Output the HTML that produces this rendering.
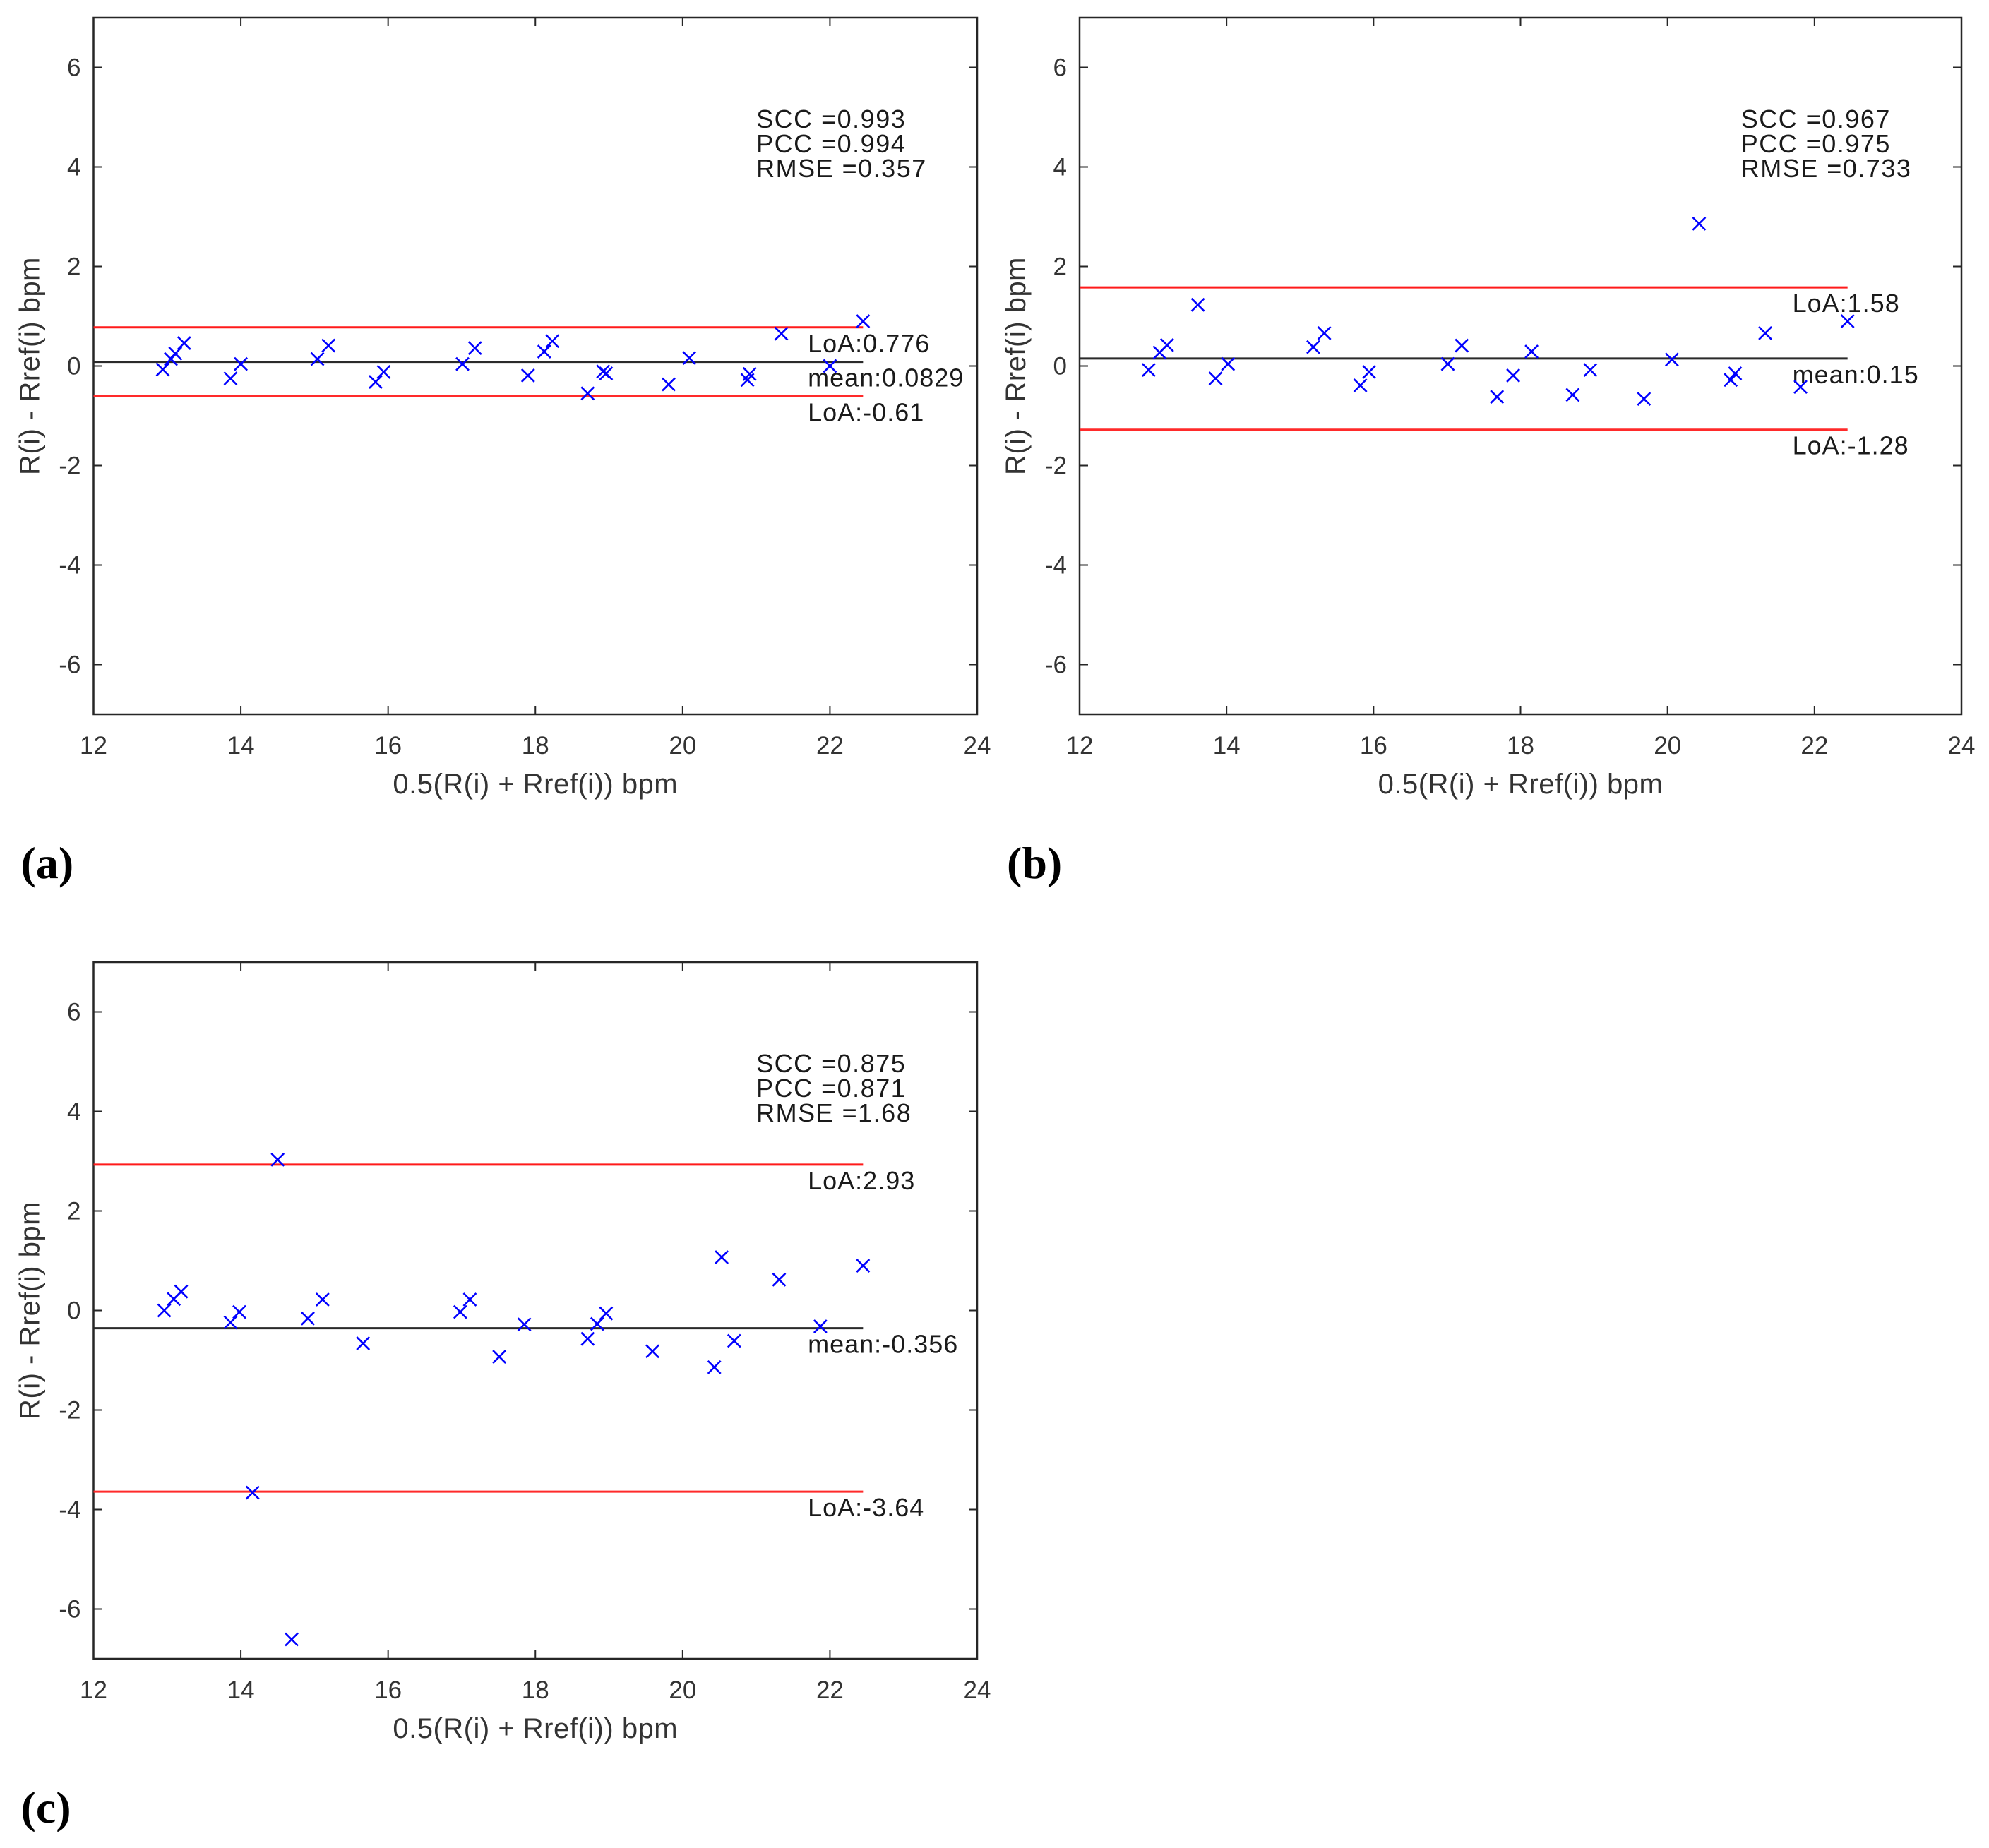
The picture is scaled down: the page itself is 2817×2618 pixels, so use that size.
<!DOCTYPE html>
<html><head><meta charset="utf-8"><style>
html,body{margin:0;padding:0;background:#fff;}
svg{display:block;font-family:"Liberation Sans",Arial,sans-serif;}
</style></head><body>
<svg id="fig" width="2817" height="2618" viewBox="0 0 2817 2618" xmlns="http://www.w3.org/2000/svg"></svg>
<script>
// ---- data ----
const xTicks = [12,14,16,18,20,22,24];
const yTicks = [-6,-4,-2,0,2,4,6];
const aX = [12.94,13.05,13.11,13.23,13.86,14.00,15.04,15.19,15.83,15.94,17.01,17.18,17.90,18.12,18.23,18.71,18.92,18.96,19.81,20.09,20.88,20.91,21.34,22.00,22.45];
const aY = [-0.07,0.14,0.25,0.46,-0.25,0.04,0.14,0.41,-0.32,-0.12,0.04,0.36,-0.19,0.29,0.50,-0.55,-0.11,-0.15,-0.37,0.16,-0.28,-0.16,0.65,0.00,0.90];
const aStats = ["SCC =0.993","PCC =0.994","RMSE =0.357"];
const aLines = [0.776,0.0829,-0.61];
const aLineLabels = ["LoA:0.776","mean:0.0829","LoA:-0.61"];
const bX = [12.94,13.09,13.19,13.61,13.85,14.02,15.18,15.33,15.82,15.94,17.01,17.20,17.68,17.90,18.15,18.71,18.95,19.68,20.06,20.43,20.86,20.92,21.33,21.81,22.45];
const bY = [-0.08,0.27,0.42,1.23,-0.25,0.04,0.38,0.66,-0.39,-0.12,0.04,0.41,-0.62,-0.19,0.29,-0.58,-0.08,-0.66,0.13,2.86,-0.28,-0.15,0.66,-0.42,0.90];
const bStats = ["SCC =0.967","PCC =0.975","RMSE =0.733"];
const bLines = [1.58,0.15,-1.28];
const bLineLabels = ["LoA:1.58","mean:0.15","LoA:-1.28"];
const cX = [12.96,13.09,13.19,13.86,13.98,14.16,14.50,14.69,14.91,15.11,15.66,16.98,17.11,17.51,17.85,18.71,18.84,18.96,19.59,20.43,20.53,20.70,21.31,21.87,22.45];
const cY = [0.00,0.23,0.38,-0.24,-0.03,-3.66,3.03,-6.61,-0.16,0.22,-0.66,-0.03,0.22,-0.93,-0.28,-0.57,-0.27,-0.06,-0.82,-1.14,1.07,-0.61,0.62,-0.32,0.90];
const cStats = ["SCC =0.875","PCC =0.871","RMSE =1.68"];
const cLines = [2.93,-0.356,-3.64];
const cLineLabels = ["LoA:2.93","mean:-0.356","LoA:-3.64"];

const NS="http://www.w3.org/2000/svg";
const svg=document.getElementById('fig');
function mk(tag,attrs,parent,text){const e=document.createElementNS(NS,tag);for(const k in attrs)e.setAttribute(k,attrs[k]);if(text!==undefined)e.textContent=text;parent.appendChild(e);return e;}

function panel(key,L,R,T,B,xs,ys,stats,lines,lineLabels,letter){
  const g=mk('g',{},svg);
  
  
  const sx=v=>L+(v-12)/12*(R-L);
  const sy=v=>T+(7-v)/14*(B-T);
  const frame=mk('rect',{x:L,y:T,width:R-L,height:B-T,fill:'#fff',stroke:'#262626','stroke-width':2.5},g);
  
  
  xTicks.forEach(t=>{
    const x=sx(t);
    mk('line',{x1:x,y1:B,x2:x,y2:B-12,stroke:'#262626','stroke-width':2},g);
    mk('line',{x1:x,y1:T,x2:x,y2:T+12,stroke:'#262626','stroke-width':2},g);
    const tl=mk('text',{x:x,y:B+56,'text-anchor':'middle','font-size':35,fill:'#333'},g,String(t));
    
    
  });
  yTicks.forEach(t=>{
    const y=sy(t);
    mk('line',{x1:L,y1:y,x2:L+12,y2:y,stroke:'#262626','stroke-width':2},g);
    mk('line',{x1:R,y1:y,x2:R-12,y2:y,stroke:'#262626','stroke-width':2},g);
    const tl=mk('text',{x:L-18,y:y+12,'text-anchor':'end','font-size':35,fill:'#333'},g,String(t));
    
    
  });
  const xt=mk('text',{x:(L+R)/2,y:B+112,'text-anchor':'middle','font-size':40,fill:'#333','letter-spacing':0.5},g,'0.5(R(i) + Rref(i)) bpm');
  
  
  const yc=(T+B)/2, yx=L-77;
  const yt=mk('text',{x:yx,y:yc,'text-anchor':'middle','font-size':40,fill:'#333','letter-spacing':0.5,transform:`rotate(-90 ${yx} ${yc})`},g,'R(i) - Rref(i) bpm');
  
  
  const colors=['#ff1a1a','#2a2a2a','#ff2a2a'];
  lines.forEach((v,i)=>{
    const y=sy(v);
    const ln=mk('line',{x1:sx(12),y1:y,x2:sx(22.45),y2:y,stroke:colors[i],'stroke-width':3},g);
    
    
    const lb=mk('text',{x:sx(21.7),y:y+35,'font-size':36,fill:'#1a1a1a','letter-spacing':1},g,lineLabels[i]);
    
    
  });
  stats.forEach((s,i)=>{
    const st=mk('text',{x:sx(21.0),y:T+156+i*35,'font-size':36,fill:'#1a1a1a','letter-spacing':1.5},g,s);
    
    
  });
  xs.forEach((xv,i)=>{
    const cx=sx(xv), cy=sy(ys[i]), r=9;
    const p=mk('path',{d:`M${cx-r} ${cy-r}L${cx+r} ${cy+r}M${cx-r} ${cy+r}L${cx+r} ${cy-r}`,stroke:'#0000ff','stroke-width':2.6,fill:'none'},g);
    
    
  });
  const pl=mk('text',{x:L-103,y:B+232,'font-size':64,'font-weight':'bold','font-family':'"Liberation Serif",serif',fill:'#000'},g,letter);
  
  
}
panel('a',132.5,1384,25,1012,aX,aY,aStats,aLines,aLineLabels,'(a)');
panel('b',1529,2778,25,1012,bX,bY,bStats,bLines,bLineLabels,'(b)');
panel('c',132.5,1384,1363,2350,cX,cY,cStats,cLines,cLineLabels,'(c)');
</script>
</body></html>
